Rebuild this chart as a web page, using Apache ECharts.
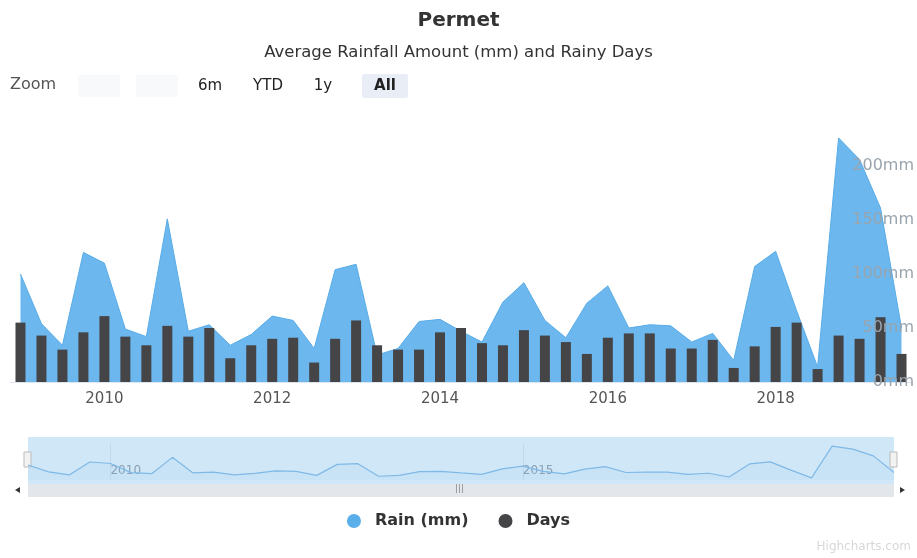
<!DOCTYPE html>
<html>
<head>
<meta charset="utf-8">
<script src="https://cdn.jsdelivr.net/npm/echarts@6/dist/echarts.min.js"></script>
<style>
html,body{margin:0;padding:0;background:#fff;}
#chart{width:917px;height:558px;}
</style>
</head>
<body>
<div id="chart"></div>
<script>
// Quarterly periods (Highstock data grouping: 3 months)
var quarters = [
  '2009-01','2009-04','2009-07','2009-10',
  '2010-01','2010-04','2010-07','2010-10',
  '2011-01','2011-04','2011-07','2011-10',
  '2012-01','2012-04','2012-07','2012-10',
  '2013-01','2013-04','2013-07','2013-10',
  '2014-01','2014-04','2014-07','2014-10',
  '2015-01','2015-04','2015-07','2015-10',
  '2016-01','2016-04','2016-07','2016-10',
  '2017-01','2017-04','2017-07','2017-10',
  '2018-01','2018-04','2018-07','2018-10',
  '2019-01','2019-04','2019-07'
];
// Rain (mm)
var rain = [100, 54, 34, 120, 110, 49, 42, 151, 47, 53,
            34, 44, 61, 57, 31, 104, 109, 25, 31, 56,
            58, 47, 37, 74, 92, 57, 41, 73, 89, 50,
            53, 52, 37, 45, 20, 107, 121, 66, 14, 226,
            206, 161, 50];
// Rainy days
var days = [5.5, 4.3, 3.0, 4.6, 6.1, 4.2, 3.4, 5.2, 4.2, 5.0,
            2.2, 3.4, 4.0, 4.1, 1.8, 4.0, 5.7, 3.4, 3.0, 3.0,
            4.6, 5.0, 3.6, 3.4, 4.8, 4.3, 3.7, 2.6, 4.1, 4.5,
            4.5, 3.1, 3.1, 3.9, 1.3, 3.3, 5.1, 5.5, 1.2, 4.3,
            4.0, 6.0, 2.6];
var xTickYears = ['2010', '2012', '2014', '2016', '2018'];
var navTickYears = ['2010', '2015'];
var rainTicks = [0, 50, 100, 150, 200];
var rangeButtons = ['6m', 'YTD', '1y', 'All'];

var FONT = 'DejaVu Sans';
var chart = echarts.init(document.getElementById('chart'), null, {renderer: 'canvas'});

function isYearStart(val, list) {
  return val.slice(5) === '01' && list.indexOf(val.slice(0, 4)) >= 0;
}

var btnX = [210, 268, 323, 385];
var graphics = [
  {type: 'text', left: 10, top: 77, style: {text: 'Zoom', fill: '#555', font: '16px "DejaVu Sans"'}},
  {type: 'rect', shape: {x: 78, y: 75, width: 42, height: 22, r: 2}, style: {fill: '#f8f9fa'}},
  {type: 'rect', shape: {x: 136, y: 75, width: 42, height: 22, r: 2}, style: {fill: '#f8f9fa'}},
  {type: 'rect', shape: {x: 362, y: 74, width: 46, height: 24, r: 2}, style: {fill: '#e9eef6'}},
  // navigator background
  {type: 'rect', z: -5, shape: {x: 28, y: 437, width: 866, height: 47}, style: {fill: '#d0e7f8'}},
  // scrollbar
  {type: 'rect', z: -5, shape: {x: 28, y: 484, width: 866, height: 13}, style: {fill: '#e3e7eb'}},
  {type: 'polygon', shape: {points: [[15, 490], [20, 487], [20, 493]]}, style: {fill: '#333'}},
  {type: 'polygon', shape: {points: [[905, 490], [900, 487], [900, 493]]}, style: {fill: '#333'}},
  {type: 'text', left: 455, top: 484, style: {text: '|||', fill: '#888', font: '9px "DejaVu Sans"'}},
  // navigator handles
  {type: 'rect', shape: {x: 24, y: 452, width: 7, height: 15}, style: {fill: '#f2f2f2', stroke: '#bbb', lineWidth: 1}},
  {type: 'rect', shape: {x: 890, y: 452, width: 7, height: 15}, style: {fill: '#f2f2f2', stroke: '#bbb', lineWidth: 1}},
  {type: 'text', right: 6, top: 541, style: {text: 'Highcharts.com', fill: '#d8d8d8', font: '12px "DejaVu Sans"'}}
];
rangeButtons.forEach(function (b, i) {
  graphics.push({type: 'text', style: {text: b, x: btnX[i], y: 86, textAlign: 'center', textVerticalAlign: 'middle',
    fill: '#222', font: (b === 'All' ? 'bold ' : '') + '15px "DejaVu Sans"'}});
});

var option = {
  animation: false,
  backgroundColor: '#fff',
  textStyle: {fontFamily: FONT},
  title: [
    {text: 'Permet', left: 'center', top: 6, textStyle: {fontFamily: FONT, fontSize: 20, fontWeight: 'bold', color: '#333'}},
    {text: 'Average Rainfall Amount (mm) and Rainy Days', left: 'center', top: 39, textStyle: {fontFamily: FONT, fontSize: 16.5, fontWeight: 'normal', color: '#333'}}
  ],
  legend: {
    bottom: 24, left: 'center',
    icon: 'circle', itemWidth: 14, itemHeight: 14, itemGap: 30,
    textStyle: {fontFamily: FONT, fontSize: 16, fontWeight: 'bold', color: '#333', padding: [0, 0, 0, 9]},
    data: ['Rain (mm)', 'Days']
  },
  grid: [
    {left: 10, right: 1, top: 112, height: 270},
    {left: 28, right: 23, top: 444, height: 36}
  ],
  xAxis: [
    {
      type: 'category', gridIndex: 0, data: quarters, boundaryGap: true,
      axisLine: {show: true, lineStyle: {color: '#dfe6f0'}},
      axisTick: {show: false},
      axisLabel: {
        interval: function (idx, val) { return isYearStart(val, xTickYears); },
        formatter: function (val) { return val.slice(0, 4); },
        color: '#555', fontSize: 15, margin: 10, fontFamily: FONT
      },
      splitLine: {show: false}
    },
    {
      type: 'category', gridIndex: 1, data: quarters, boundaryGap: false,
      axisLine: {show: false}, axisTick: {show: false},
      axisLabel: {
        inside: true, margin: 3, align: 'left',
        interval: function (idx, val) { return isYearStart(val, navTickYears); },
        formatter: function (val) { return val.slice(0, 4); },
        color: '#8aa0b5', fontSize: 12, fontFamily: FONT
      },
      splitLine: {show: true, interval: function (idx, val) { return isYearStart(val, navTickYears); },
        lineStyle: {color: '#c2d9ec', width: 1}}
    }
  ],
  yAxis: [
    {
      type: 'value', gridIndex: 0, position: 'right', min: 0, max: 250, interval: 50,
      axisLine: {show: false}, axisTick: {show: false}, splitLine: {show: false},
      axisLabel: {
        inside: true, margin: -2, color: '#9aa4ad', fontSize: 16, fontFamily: FONT,
        formatter: function (v) { return rainTicks.indexOf(v) >= 0 ? v + 'mm' : ''; }
      },
      z: 5
    },
    {
      type: 'value', gridIndex: 0, min: 0, max: 25, interval: 5, show: false
    },
    {
      type: 'value', gridIndex: 1, min: 0, max: 240, show: false
    }
  ],
  series: [
    {
      name: 'Rain (mm)', type: 'line', xAxisIndex: 0, yAxisIndex: 0, data: rain,
      symbol: 'none', color: '#5aaeea',
      lineStyle: {color: '#58ace8', width: 1},
      areaStyle: {color: '#6cb8ee', opacity: 1},
      z: 1
    },
    {
      name: 'Days', type: 'bar', xAxisIndex: 0, yAxisIndex: 1, data: days,
      barWidth: 10, color: '#454548', itemStyle: {color: '#454548'},
      z: 3
    },
    {
      name: 'nav', type: 'line', xAxisIndex: 1, yAxisIndex: 2, data: rain,
      symbol: 'none', lineStyle: {color: '#7fb9e6', width: 1.2},
      areaStyle: {color: 'rgba(124,181,236,0.12)'}, silent: true, z: 2
    }
  ],
  graphic: graphics
};
chart.setOption(option);
</script>
</body>
</html>
